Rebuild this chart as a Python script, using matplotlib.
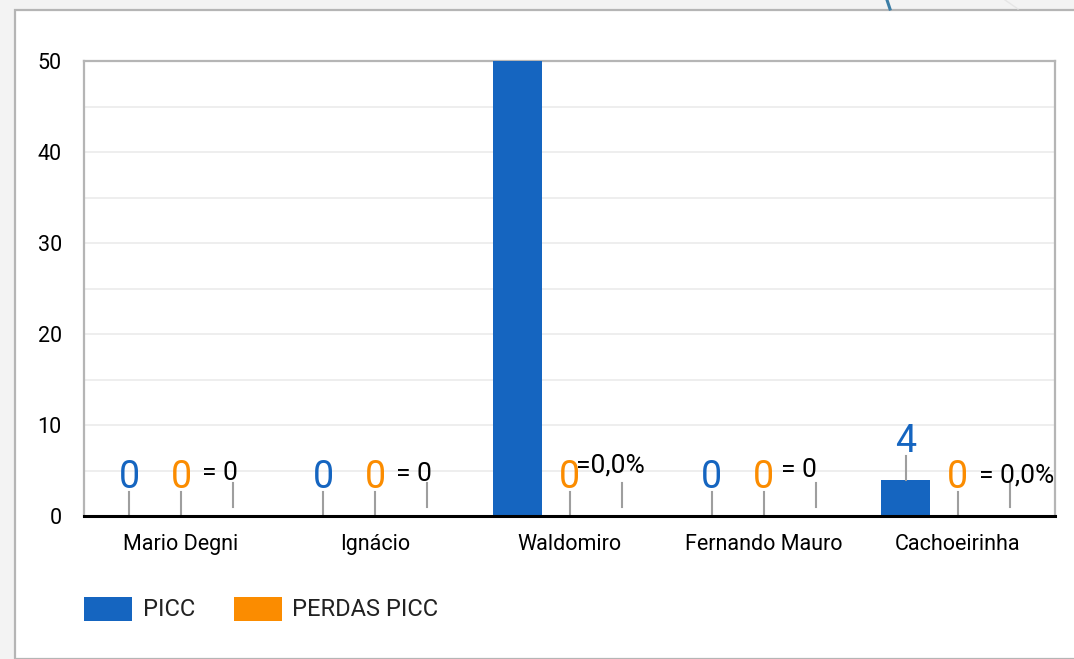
import matplotlib
matplotlib.use("Agg")
import matplotlib.pyplot as plt
from matplotlib.patches import Rectangle
from matplotlib.lines import Line2D

# ---- data ----
categories = ["Mario Degni", "Ignácio", "Waldomiro", "Fernando Mauro", "Cachoeirinha"]
picc = [0, 0, 55, 0, 4]
perdas_picc = [0, 0, 0, 0, 0]
ratio_helper = [1, 1, 1, 1, 1]          # invisible series carrying the ratio annotation
ratio_labels = ["= 0", "= 0", "=0,0%", "= 0", "= 0,0%"]
y_ticks = [0, 10, 20, 30, 40, 50]
series_names = ["PICC", "PERDAS PICC"]

BLUE = "#1565c0"
ORANGE = "#fb8c00"
STEM = "#9e9e9e"

plt.rcParams["font.family"] = ["Roboto", "DejaVu Sans"]

W, H = 1074, 659
fig = plt.figure(figsize=(W / 100, H / 100), dpi=100)
fig.patch.set_facecolor("#f3f3f3")

def fx(x):
    return x / W

def fy(y):
    return 1 - y / H

# card
fig.add_artist(Rectangle((fx(15), 0), 1.1, fy(10), transform=fig.transFigure,
                         facecolor="white", edgecolor="#b5b5b5", linewidth=1.6, zorder=0))
# decorative bits in the top strip
fig.add_artist(Line2D([fx(887), fx(890)], [fy(0), fy(9)], transform=fig.transFigure,
                      color="#3d7ea6", linewidth=2.2))
fig.add_artist(Line2D([fx(1005), fx(1018)], [fy(0), fy(9)], transform=fig.transFigure,
                      color="#e6e6e6", linewidth=1.0))

ax = fig.add_axes([fx(84), fy(516), fx(1055) - fx(84), fy(61) - fy(516)])
ax.set_facecolor("white")

n = len(categories)
bw = 49 / 194.2
off = 52 / 194.2
xs = list(range(n))
ymax = 50

ax.bar([x - off for x in xs], picc, width=bw, color=BLUE, zorder=3)
ax.bar(xs, perdas_picc, width=bw, color=ORANGE, zorder=3)
ax.bar([x + off for x in xs], ratio_helper, width=bw, color="none", zorder=3)

ax.set_xlim(-0.5, n - 0.5)
ax.set_ylim(0, ymax)

for v in range(0, ymax + 1, 5):
    ax.axhline(v, color="#ebebeb", linewidth=1.2, zorder=1)

ax.set_yticks(y_ticks)
ax.set_yticklabels([str(t) for t in y_ticks])
ax.set_xticks(xs)
ax.set_xticklabels(categories)
ax.tick_params(axis="y", length=0, pad=16, labelsize=15.5)
ax.tick_params(axis="x", length=0, pad=13, labelsize=15.5)

for s in ["left", "top", "right"]:
    ax.spines[s].set_color("#b5b5b5")
    ax.spines[s].set_linewidth(1.6)
ax.spines["bottom"].set_color("black")
ax.spines["bottom"].set_linewidth(2.2)
ax.spines["bottom"].set_zorder(5)

STEM_PX = 24

def stem_and_label(x, v, text, color, size, dx, gap):
    if v > ymax:
        return
    p0 = ax.transData.transform((x, v))
    inv = ax.transData.inverted()
    p1 = inv.transform((p0[0], p0[1] + STEM_PX))
    ax.plot([x, x], [v, p1[1]], color=STEM, linewidth=1.5, zorder=4, clip_on=False)
    ax.annotate(text, xy=(x, v), xytext=(dx, STEM_PX + gap), textcoords="offset pixels",
                ha="center", va="baseline", color=color, fontsize=size, zorder=6,
                annotation_clip=False)

for i, x in enumerate(xs):
    stem_and_label(x - off, picc[i], str(picc[i]), BLUE, 27, 0, 4)
    stem_and_label(x, perdas_picc[i], str(perdas_picc[i]), ORANGE, 27, 0, 4)

ratio_dx = [-13, -13, -11, -17, 7]
ratio_gap = [3, 2, 10, 6, 0]
for i, x in enumerate(xs):
    stem_and_label(x + off, ratio_helper[i], ratio_labels[i], "black", 19, ratio_dx[i], ratio_gap[i])

# legend
leg_colors = [BLUE, ORANGE]
leg_box_x = [84, 234]
leg_text_x = [143, 292]
for c, bx, tx, name in zip(leg_colors, leg_box_x, leg_text_x, series_names):
    fig.add_artist(Rectangle((fx(bx), fy(621)), fx(48), fy(597) - fy(621),
                             transform=fig.transFigure, facecolor=c, edgecolor="none"))
    fig.text(fx(tx), fy(609), name, fontsize=17, va="center", ha="left", color="#222222")

fig.savefig("out.png", dpi=100, facecolor=fig.get_facecolor())
